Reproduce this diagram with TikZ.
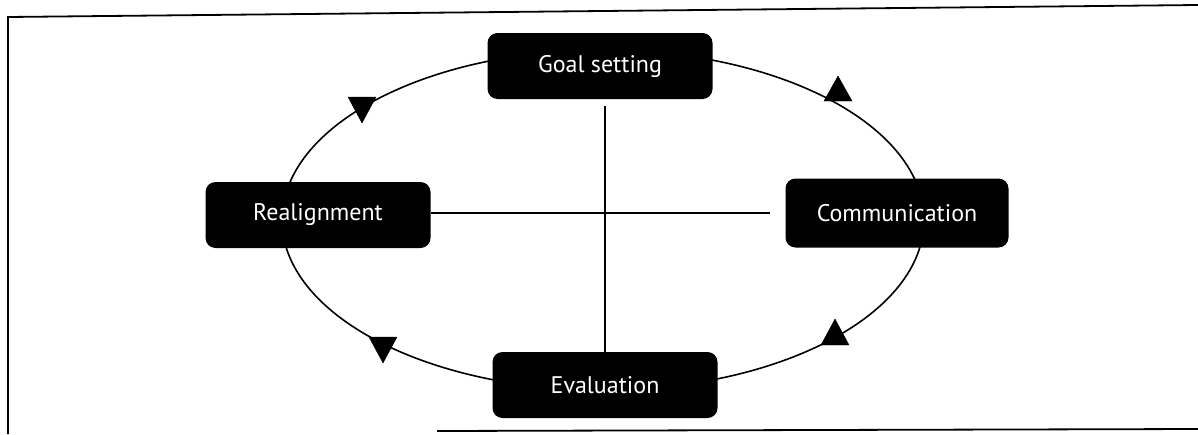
\documentclass[tikz,border=0pt]{standalone}
\usepackage{fontspec}
\setmainfont{PT Sans}
\begin{document}
\begin{tikzpicture}[x=1pt,y=-1pt,
  stage/.style={rectangle, rounded corners=10pt, fill=black, text=white,
    minimum width=225pt, minimum height=66pt, inner sep=0pt,
    font=\fontsize{24}{28}\selectfont},
  cyc/.style={line width=1.6pt},
  tri/.style={fill=black, draw=black, line join=miter}]
\useasboundingbox (0,0) rectangle (1198,434);
% frame
\draw[line width=1.8pt] (8,434) -- (8,17) -- (1198,5);
\draw[line width=1.8pt] (437,431) -- (1198,429);
% cycle ellipse
\draw[cyc] (603,220) ellipse [x radius=321pt, y radius=170pt];
% stages
\node[stage] (goal) at (600,66) {Goal setting};
\node[stage] (real) at (318,215) {Realignment};
\node[stage, minimum width=223pt, minimum height=69pt] (comm) at (897,213) {Communication};
\node[stage] (eval) at (605,385) {Evaluation};
% cross
\coordinate (vt) at (605,106);
\coordinate (vb) at (605,364);
\coordinate (hr) at (770,213);
\draw[line width=1.2pt] (vt) -- (vb);
\draw[line width=1.2pt] (real.east |- hr) -- (hr);
% direction triangles
\fill[tri] (838,76) -- (852,101) -- (824,101) -- cycle;
\fill[tri] (835,319) -- (849,345) -- (821,345) -- cycle;
\fill[tri] (362,123) -- (348,97) -- (376,97) -- cycle;
\fill[tri] (383,363) -- (369,337) -- (397,337) -- cycle;
\end{tikzpicture}
\end{document}
